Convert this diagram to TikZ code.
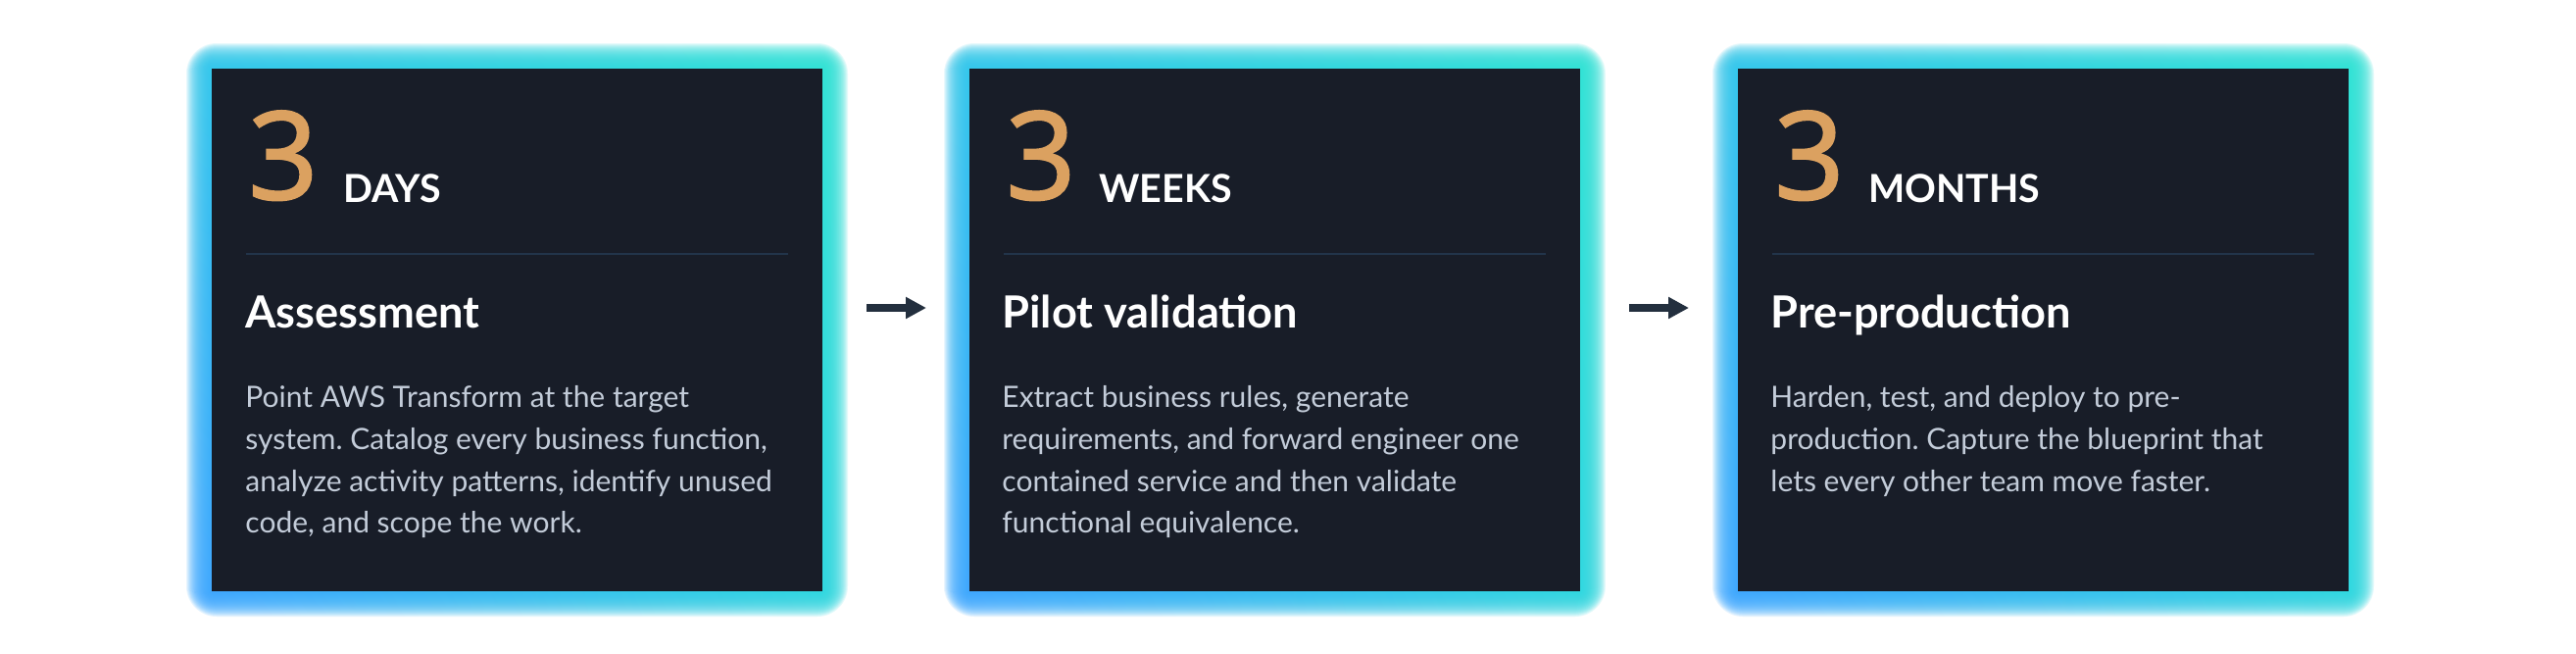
\documentclass[tikz,border=0pt]{standalone}
\usepackage{fontspec}
\setmainfont{Lato}
\newfontfamily\numfont[FakeBold=2]{Open Sans}
\usetikzlibrary{arrows.meta,shadings}
\definecolor{cardbg}{HTML}{181D28}
\definecolor{numorange}{HTML}{DBA160}
\definecolor{bodytxt}{HTML}{C3CCD9}
\definecolor{divcol}{HTML}{22344A}
\definecolor{arrowcol}{HTML}{232F3E}
\definecolor{glowUL}{HTML}{2FC8EC}
\definecolor{glowLL}{HTML}{3AA6FF}
\definecolor{glowUR}{HTML}{2DE3D6}
\definecolor{glowLR}{HTML}{2CD8E0}
\newcommand\glowbox[4]{%
  \foreach \k in {26,25,...,1}{%
    \pgfmathsetmacro\off{\k*1.0}%
    \pgfmathsetmacro\rad{\off*0.6}%
    \shade[upper left=glowUL, upper right=glowUR, lower left=glowLL, lower right=glowLR,
           opacity=0.11, rounded corners=\rad pt]
      (#1-\off,#2-\off) rectangle (#3+\off,#4+\off);
  }%
}
\begin{document}
\frenchspacing
\begin{tikzpicture}[x=0.5pt,y=-0.5pt,
  card/.style={rectangle, fill=cardbg, draw=none, inner sep=0pt,
               minimum width=311.5pt, minimum height=266.5pt},
  bignum/.style={anchor=base west, inner sep=0pt, text=numorange,
                 font=\numfont\fontsize{62}{62}\selectfont},
  unitlbl/.style={anchor=base west, inner sep=0pt, text=white,
                  font=\bfseries\fontsize{19.7}{19.7}\selectfont},
  ttl/.style={anchor=base west, inner sep=0pt, text=white,
              font=\bfseries\fontsize{22.6}{26}\selectfont},
  bodytext/.style={anchor=base west, inner sep=0pt, text=bodytxt, align=left,
                   font=\fontsize{15.0}{21.4}\selectfont},
  divider/.style={draw=divcol, line width=1pt},
  flow/.style={draw=arrowcol, line width=4pt, -{Triangle[length=10.5pt,width=10.5pt]}},
]
\fill[white] (0,0) rectangle (2628,666);
\useasboundingbox (0,0) rectangle (2628,666);

% glows
\glowbox{216}{70}{839}{603}
\glowbox{989}{70}{1612}{603}
\glowbox{1773}{70}{2396}{603}

% cards
\node[card] (b1) at (527.5,336.5) {};
\node[card] (b2) at (1300.5,336.5) {};
\node[card] (b3) at (2084.5,336.5) {};

% card 1 (body anchored at the baseline of its last line)
\node[bignum] (n1) at (253,203) {3};
\node[unitlbl] (u1) at (350,206) {DAYS};
\draw[divider] (251,259) -- (804,259);
\node[ttl] (t1) at (250,334.7) {Assessment};
\node[bodytext] (p1) at (250,543.9) {Point AWS Transform at the target\\system. Catalog every business function,\\analyze activity patterns, identify unused\\code, and scope the work.};

% card 2
\node[bignum] (n2) at (1026,203) {3};
\node[unitlbl] (u2) at (1121,206) {WEEKS};
\draw[divider] (1024,259) -- (1577,259);
\node[ttl] (t2) at (1022,334.7) {Pilot validation};
\node[bodytext] (p2) at (1022,543.9) {Extract business rules, generate\\requirements, and forward engineer one\\contained service and then validate\\functional equivalence.};

% card 3
\node[bignum] (n3) at (1810,203) {3};
\node[unitlbl] (u3) at (1906,206) {MONTHS};
\draw[divider] (1808,259) -- (2361,259);
\node[ttl] (t3) at (1806,334.7) {Pre-production};
\node[bodytext] (p3) at (1806,501.1) {Harden, test, and deploy to pre-\\production. Capture the blueprint that\\lets every other team move faster.};

% arrows
\coordinate (a1s) at (884,314);
\coordinate (a1e) at (945,314);
\coordinate (a2s) at (1662,314);
\coordinate (a2e) at (1723,314);
\draw[flow] (a1s) -- (a1e);
\draw[flow] (a2s) -- (a2e);
\end{tikzpicture}
\end{document}
